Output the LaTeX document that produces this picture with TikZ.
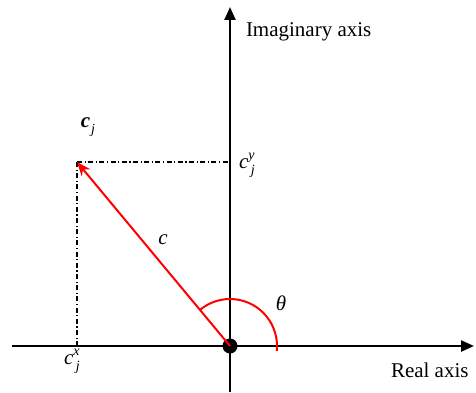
\documentclass[tikz,border=0pt]{standalone}
\usepackage{fontspec}
\setmainfont{Liberation Serif}
\usepackage{tikz}
\usetikzlibrary{arrows.meta}

\newcommand{\scr}[1]{{\fontsize{14}{16}\selectfont\textit{#1}}}
\newcommand{\compo}[2]{\textit{c}\raisebox{1.0ex}{\scr{#1}}\kern-0.18em\raisebox{-0.6ex}{\scr{#2}}}

\begin{document}
\begin{tikzpicture}[x=1pt,y=1pt,every node/.style={font=\fontsize{21}{24}\selectfont, inner sep=0pt, outer sep=0pt}]
\useasboundingbox (0,0) rectangle (476,392);

% axes
\coordinate (xl) at (12,46);
\coordinate (xr) at (474,46);
\coordinate (yb) at (230,0);
\coordinate (yt) at (230,385);
\draw[line width=2.4pt, -{Triangle[length=13pt,width=11pt]}] (xl) -- (xr);
\draw[line width=2.4pt, -{Triangle[length=13pt,width=11pt]}] (yb) -- (yt);
\node[circle, fill=black, minimum size=15pt] (O) at (230,46) {};

% projections
\coordinate (cj) at (77,230);
\coordinate (cy) at (230,230);
\coordinate (cx) at (77,46);
\draw[line width=1.1pt, dash pattern=on 5pt off 2.5pt on 1.2pt off 2.5pt] (cj) -- (cy);
\draw[line width=1.1pt, dash pattern=on 5pt off 2.5pt on 1.2pt off 2.5pt] (cj) -- (cx);

% vector and angle
\draw[red, line width=2pt, -{Stealth[length=14pt,width=11pt]}] (O.center) -- (cj);
\draw[red, line width=2pt] (O.center) ++(-6:47) arc (-6:130:47);

% labels
\node (lcj) at (88,265) {\textbf{\textit{c}}\kern0.05em\raisebox{-0.6ex}{\scr{j}}};
\node[anchor=west] (lcy) at (239,227) {\compo{y}{j}};
\node (lcx) at (72,31) {\compo{x}{j}};
\node (lc) at (163,152) {\textit{c}};
\node (lth) at (281,89) {\textit{θ}};
\node[anchor=west] (lim) at (246,360) {Imaginary axis};
\node[anchor=west] (lre) at (391,22) {Real axis};
\end{tikzpicture}
\end{document}
